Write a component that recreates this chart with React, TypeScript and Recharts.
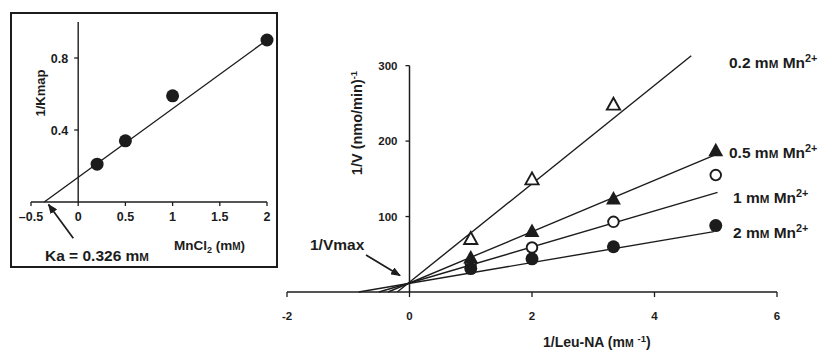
import { ComposedChart, Line, Scatter, XAxis, YAxis, ReferenceLine } from 'recharts';

const FONT = '"Liberation Sans", Arial, Helvetica, sans-serif';
const INK = '#1c1c1c';

// main plot: 1/V vs 1/[Leu-NA]
const leuX = [1, 2, 3.33, 5];
const v02 = [70, 149, 248];
const v05 = [45, 80, 123, 187];
const v1 = [38, 59, 93, 155];
const v2 = [31, 44, 60, 88];

// fitted lines, given by their two end points
const fit02X = [-0.2, 4.6];
const fit02Y = [0, 313];
const fit05X = [-0.35, 5];
const fit05Y = [0, 182];
const fit1X = [-0.5, 5.03];
const fit1Y = [0, 132];
const fit2X = [-0.83, 4.97];
const fit2Y = [0, 80];

const mainXTicks = [-2, 0, 2, 4, 6];
const mainYTicks = [100, 200, 300];

// inset: 1/Kmap vs MnCl2
const mnCl2 = [0.2, 0.5, 1, 2];
const invKmap = [0.21, 0.34, 0.59, 0.9];
const insetFitX = [-0.36, 2];
const insetFitY = [0, 0.9];
const insetXTicks = [-0.5, 0, 0.5, 1, 1.5, 2];
const insetYTicks = [0.4, 0.8];

const pts = (xs: number[], ys: number[]) => ys.map((y, i) => ({ x: xs[i], y }));

// layout of the main chart
const M_MARGIN = { top: 43, right: 53, bottom: 30, left: 286 };
const M_XMIN = -2, M_XMAX = 6;
const M_PLOT_L = M_MARGIN.left + 1;
const M_PLOT_W = 830 - M_PLOT_L - M_MARGIN.right;
const M_X0 = M_PLOT_L + ((0 - M_XMIN) / (M_XMAX - M_XMIN)) * M_PLOT_W;

// layout of the inset
const I_W = 280, I_H = 270;
const I_MARGIN = { top: 22, right: 13, bottom: 38, left: 30 };
const I_XMIN = -0.5, I_XMAX = 2;
const I_PLOT_L = I_MARGIN.left + 1;
const I_PLOT_W = I_W - I_PLOT_L - I_MARGIN.right;
const I_X0 = I_PLOT_L + ((0 - I_XMIN) / (I_XMAX - I_XMIN)) * I_PLOT_W;

const LW = 1.4;
const tickFont = { fontSize: 11.5, fontWeight: 'bold' as const, fill: INK, fontFamily: FONT };

function makeYTick(x0: number, size: number, gap: number, fontSize: number) {
  return (props: any) => {
    const { y, payload } = props;
    return (
      <g>
        <line x1={x0 - size} x2={x0} y1={y} y2={y} stroke={INK} strokeWidth={1.3} />
        <text x={x0 - gap} y={y} dy={fontSize * 0.36} textAnchor="end"
          fontSize={fontSize} fontWeight="bold" fill={INK} fontFamily={FONT}>
          {payload.value}
        </text>
      </g>
    );
  };
}

const filledCircle = (p: any) => <circle cx={p.cx} cy={p.cy} r={6.5} fill={INK} />;
const openCircle = (p: any) => <circle cx={p.cx} cy={p.cy} r={5.3} fill="#fff" stroke={INK} strokeWidth={1.9} />;
const tri = (cx: number, cy: number, s: number) =>
  `M${cx},${cy - s * 0.6} L${cx + s * 0.55},${cy + s * 0.4} L${cx - s * 0.55},${cy + s * 0.4} Z`;
const filledTri = (p: any) => <path d={tri(p.cx, p.cy, 13.5)} fill={INK} />;
const openTri = (p: any) => <path d={tri(p.cx, p.cy, 12)} fill="#fff" stroke={INK} strokeWidth={1.9} strokeLinejoin="miter" />;

function Mn({ x, y, lead, size }: { x: number; y: number; lead: string; size: number }) {
  return (
    <text x={x} y={y} fontSize={size} fontWeight="bold" fill={INK} fontFamily={FONT}>
      {lead} m<tspan fontSize={size * 0.75}>M</tspan> Mn
      <tspan fontSize={size * 0.7} dy={-size * 0.38}>2+</tspan>
    </text>
  );
}

export default function App() {
  return (
    <div style={{ position: 'absolute', left: 0, top: 0, width: 830, height: 352, background: '#fff', fontFamily: FONT }}>
      <div style={{ position: 'absolute', left: 0, top: 0 }}>
        <ComposedChart width={830} height={352} margin={M_MARGIN}>
          <XAxis dataKey="x" type="number" domain={[M_XMIN, M_XMAX]} ticks={mainXTicks}
            height={30} tickSize={5} tickMargin={15} tick={tickFont}
            axisLine={{ stroke: INK, strokeWidth: 1.6 }} tickLine={{ stroke: INK, strokeWidth: 1.3 }} />
          <YAxis type="number" domain={[0, 330]} ticks={mainYTicks} width={1}
            axisLine={false} tickLine={false} tick={makeYTick(M_X0, 4, 12, 11.5)} />
          <ReferenceLine segment={[{ x: 0, y: 0 }, { x: 0, y: 300 }]} stroke={INK} strokeWidth={1.5} />
          <Line data={pts(fit02X, fit02Y)} dataKey="y" stroke={INK} strokeWidth={LW} dot={false} isAnimationActive={false} />
          <Line data={pts(fit05X, fit05Y)} dataKey="y" stroke={INK} strokeWidth={LW} dot={false} isAnimationActive={false} />
          <Line data={pts(fit1X, fit1Y)} dataKey="y" stroke={INK} strokeWidth={LW} dot={false} isAnimationActive={false} />
          <Line data={pts(fit2X, fit2Y)} dataKey="y" stroke={INK} strokeWidth={LW} dot={false} isAnimationActive={false} />
          <Scatter data={pts(leuX, v02)} dataKey="y" shape={openTri} isAnimationActive={false} />
          <Scatter data={pts(leuX, v1)} dataKey="y" shape={openCircle} isAnimationActive={false} />
          <Scatter data={pts(leuX, v2)} dataKey="y" shape={filledCircle} isAnimationActive={false} />
          <Scatter data={pts(leuX, v05)} dataKey="y" shape={filledTri} isAnimationActive={false} />
        </ComposedChart>
      </div>

      <div style={{ position: 'absolute', left: 10, top: 12, width: 264, height: 252, border: `2px solid ${INK}` }} />
      <div style={{ position: 'absolute', left: 0, top: 0 }}>
        <ComposedChart width={I_W} height={I_H} margin={I_MARGIN}>
          <XAxis dataKey="x" type="number" domain={[I_XMIN, I_XMAX]} ticks={insetXTicks}
            height={30} tickSize={4} tickMargin={6} tick={{ ...tickFont, fontSize: 12.5 }}
            tickFormatter={(v: number) => (v < 0 ? `\u2013${Math.abs(v)}` : `${v}`)}
            axisLine={{ stroke: INK, strokeWidth: 1.5 }} tickLine={{ stroke: INK, strokeWidth: 1.3 }} />
          <YAxis type="number" domain={[0, 1]} ticks={insetYTicks} width={1}
            axisLine={false} tickLine={false} tick={makeYTick(I_X0, 4, 10, 12.5)} />
          <ReferenceLine x={0} stroke={INK} strokeWidth={1.4} />
          <Line data={pts(insetFitX, insetFitY)} dataKey="y" stroke={INK} strokeWidth={LW} dot={false} isAnimationActive={false} />
          <Scatter data={pts(mnCl2, invKmap)} dataKey="y" shape={filledCircle} isAnimationActive={false} />
        </ComposedChart>
      </div>

      <svg width={830} height={352} style={{ position: 'absolute', left: 0, top: 0, pointerEvents: 'none' }}>
        <defs>
          <marker id="ah" markerUnits="userSpaceOnUse" markerWidth={10} markerHeight={8} refX={9} refY={4} orient="auto">
            <path d="M0,0 L10,4 L0,8 Z" fill={INK} />
          </marker>
        </defs>

        {/* main annotations */}
        <text x={310} y={249.5} fontSize={15.5} fontWeight="bold" fill={INK} fontFamily={FONT}>1/Vmax</text>
        <line x1={366} y1={255} x2={400} y2={275.5} stroke={INK} strokeWidth={1.7} markerEnd="url(#ah)" />
        <Mn x={729} y={68} lead="0.2" size={15.5} />
        <Mn x={729} y={158} lead="0.5" size={15.5} />
        <Mn x={733} y={203} lead="1" size={15.5} />
        <Mn x={733} y={238} lead="2" size={15.5} />
        <text transform="translate(362,123) rotate(-90)" textAnchor="middle" fontSize={14.5} fontWeight="bold" fill={INK} fontFamily={FONT}>
          1/V (nmo/min)<tspan fontSize={9.5} dy={-5}>-1</tspan>
        </text>
        <text x={543} y={347} fontSize={14} fontWeight="bold" fill={INK} fontFamily={FONT}>
          1/Leu-NA (m<tspan fontSize={10.5}>M</tspan> <tspan fontSize={9.5} dy={-5}>-1</tspan><tspan dy={5}>)</tspan>
        </text>

        {/* inset annotations */}
        <text transform="translate(45,93) rotate(-90)" textAnchor="middle" fontSize={13} fontWeight="bold" fill={INK} fontFamily={FONT}>1/Kmap</text>
        <text x={174} y={249.5} fontSize={13.5} fontWeight="bold" fill={INK} fontFamily={FONT}>
          MnCl<tspan fontSize={9} dy={3}>2</tspan><tspan dy={-3}> (m</tspan><tspan fontSize={10}>M</tspan>)
        </text>
        <text x={45} y={260.5} fontSize={15.5} fontWeight="bold" fill={INK} fontFamily={FONT}>
          Ka = 0.326 m<tspan fontSize={11.5}>M</tspan>
        </text>
        <line x1={73.3} y1={238.3} x2={48.5} y2={204.5} stroke={INK} strokeWidth={1.7} markerEnd="url(#ah)" />
      </svg>
    </div>
  );
}
